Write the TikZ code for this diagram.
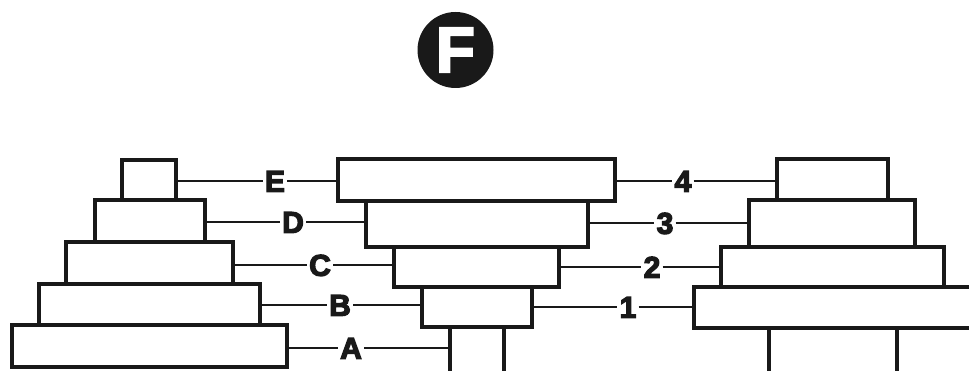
\documentclass[tikz,border=0pt]{standalone}
\usepackage{fontspec}
\setmainfont{Liberation Sans}
\newcommand{\heavytext}[2][1.3]{\special{pdf:literal q 2 Tr #1 w}#2\special{pdf:literal Q}}
\begin{document}
\begin{tikzpicture}[x=1pt,y=-1pt,
  blk/.style={draw=black!90, line width=4pt, inner sep=0pt, rectangle},
  conn/.style={draw=black!90, line width=2pt},
  lbl/.style={inner xsep=2pt, inner ysep=0pt, text height=21.5pt, text depth=0pt,
    font=\bfseries\fontsize{30}{30}\selectfont, text=black!90}]
\useasboundingbox (0,0) rectangle (969,371);
\clip (0,0) rectangle (969,371);
% title
\node[circle, fill=black!90, minimum size=76pt, inner sep=0pt, text=white,
  font=\bfseries\fontsize{64}{64}\selectfont] (F) at (455.5,50) {\heavytext[2]{F}};
% left pyramid
\node[blk, minimum width=54pt,  minimum height=40pt] (lE) at (149,180) {};
\node[blk, minimum width=110pt, minimum height=42pt] (lD) at (150,221) {};
\node[blk, minimum width=167pt, minimum height=42pt] (lC) at (149.5,263) {};
\node[blk, minimum width=221pt, minimum height=41pt] (lB) at (149.5,304.5) {};
\node[blk, minimum width=275pt, minimum height=42pt] (lA) at (149.5,346) {};
% centre pyramid (inverted)
\node[blk, minimum width=277pt, minimum height=42pt] (m4) at (476.5,180) {};
\node[blk, minimum width=222pt, minimum height=46pt] (mD) at (477,224) {};
\node[blk, minimum width=165pt, minimum height=40pt] (mC) at (476.5,267) {};
\node[blk, minimum width=110pt, minimum height=40pt] (mB) at (477,307) {};
\node[blk, minimum width=54pt,  minimum height=63pt] (mA) at (477,358.5) {};
% right pyramid
\node[blk, minimum width=111pt, minimum height=41pt] (r4) at (832.5,179.5) {};
\node[blk, minimum width=166pt, minimum height=47pt] (r3) at (832,223.5) {};
\node[blk, minimum width=223pt, minimum height=40pt] (r2) at (832.5,267) {};
\node[blk, minimum width=296pt, minimum height=41pt] (r1) at (842,307.5) {};
\node[blk, minimum width=128pt, minimum height=62pt] (r0) at (833,359) {};
% labels
\node[lbl] (E) at (275,181) {\heavytext{E}};
\node[lbl] (D) at (293,222) {\heavytext{D}};
\node[lbl] (C) at (320,265) {\heavytext{C}};
\node[lbl] (B) at (340,305) {\heavytext{B}};
\node[lbl] (A) at (351,348) {\heavytext{A}};
\node[lbl] (n4) at (683,181) {\heavytext{4}};
\node[lbl] (n3) at (665,223) {\heavytext{3}};
\node[lbl] (n2) at (652,267) {\heavytext{2}};
\node[lbl] (n1) at (628,307) {\heavytext{1}};
% connectors
\draw[conn] (lE.east |- E) -- (E.west);  \draw[conn] (E.east) -- (m4.west |- E);
\draw[conn] (lD.east |- D) -- (D.west);  \draw[conn] (D.east) -- (mD.west |- D);
\draw[conn] (lC.east |- C) -- (C.west);  \draw[conn] (C.east) -- (mC.west |- C);
\draw[conn] (lB.east |- B) -- (B.west);  \draw[conn] (B.east) -- (mB.west |- B);
\draw[conn] (lA.east |- A) -- (A.west);  \draw[conn] (A.east) -- (mA.west |- A);
\draw[conn] (m4.east |- n4) -- (n4.west);  \draw[conn] (n4.east) -- (r4.west |- n4);
\draw[conn] (mD.east |- n3) -- (n3.west);  \draw[conn] (n3.east) -- (r3.west |- n3);
\draw[conn] (mC.east |- n2) -- (n2.west);  \draw[conn] (n2.east) -- (r2.west |- n2);
\draw[conn] (mB.east |- n1) -- (n1.west);  \draw[conn] (n1.east) -- (r1.west |- n1);
\end{tikzpicture}
\end{document}
